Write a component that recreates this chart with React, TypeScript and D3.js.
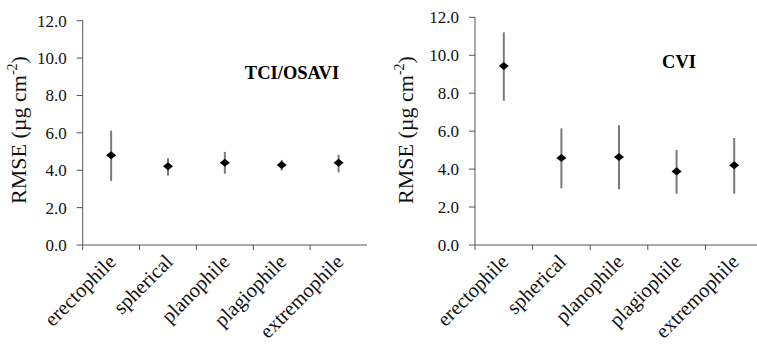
import React from "react";
import * as d3 from "d3";

const categories = ["erectophile", "spherical", "planophile", "plagiophile", "extremophile"];
const yTicks = [0, 2, 4, 6, 8, 10, 12];

// TCI/OSAVI panel
const tciMean = [4.8, 4.21, 4.4, 4.28, 4.4];
const tciHigh = [6.12, 4.64, 4.98, 4.55, 4.83];
const tciLow = [3.42, 3.71, 3.81, 3.98, 3.89];

// CVI panel
const cviMean = [9.43, 4.58, 4.64, 3.88, 4.2];
const cviHigh = [11.21, 6.15, 6.31, 5.01, 5.64];
const cviLow = [7.6, 2.99, 2.94, 2.7, 2.7];

const FONT = "'Liberation Serif', 'Times New Roman', serif";

// flat diamond, a bit wider than tall
const flatDiamond = {
  draw(ctx: any, size: number) {
    const w = Math.sqrt(size) * 0.6;
    const h = w * 0.8;
    ctx.moveTo(0, -h);
    ctx.lineTo(w, 0);
    ctx.lineTo(0, h);
    ctx.lineTo(-w, 0);
    ctx.closePath();
  },
};

type PanelProps = {
  x0: number;
  x1: number;
  yTop: number;
  title: string;
  titleX: number;
  titleY: number;
  labelX: number;
  mean: number[];
  high: number[];
  low: number[];
};

function Panel(p: PanelProps) {
  const yBottom = 245;
  const x = d3.scaleBand().domain(categories).range([p.x0, p.x1]);
  const y = d3.scaleLinear().domain([0, 12]).range([yBottom, p.yTop]);
  const sym = d3.symbol().type(flatDiamond as any).size(70);
  const axisEnd = Math.min(p.x1, 757);

  return (
    <g>
      {/* y axis */}
      <line x1={p.x0} x2={p.x0} y1={y(12)} y2={yBottom} stroke="#555" strokeWidth={1} />
      {yTicks.map((t) => (
        <g key={t}>
          <line x1={p.x0 - 6} x2={p.x0} y1={y(t)} y2={y(t)} stroke="#555" strokeWidth={1} />
          <text x={p.x0 - 16} y={y(t)} dy="0.35em" textAnchor="end" fontSize={17} fontFamily={FONT} fill="#111">
            {d3.format(".1f")(t)}
          </text>
        </g>
      ))}
      {/* x axis */}
      <line x1={p.x0} x2={axisEnd} y1={yBottom} y2={yBottom} stroke="#555" strokeWidth={1} />
      {categories.map((c) => (
        <line key={c} x1={x(c)!} x2={x(c)!} y1={yBottom} y2={yBottom + 5} stroke="#555" strokeWidth={1} />
      ))}
      {categories.map((c) => {
        const cx = x(c)! + x.bandwidth() / 2 + 6;
        const cy = yBottom + 18;
        return (
          <text
            key={c}
            x={cx}
            y={cy}
            textAnchor="end"
            fontSize={20.5}
            fontFamily={FONT}
            fill="#111"
            transform={`rotate(-45 ${cx} ${cy})`}
          >
            {c}
          </text>
        );
      })}
      {/* error bars and means */}
      {categories.map((c, i) => {
        const cx = x(c)! + x.bandwidth() / 2;
        return (
          <g key={c}>
            <line x1={cx} x2={cx} y1={y(p.high[i])} y2={y(p.low[i])} stroke="#7a7a7a" strokeWidth={2} />
            <path d={sym()!} transform={`translate(${cx},${y(p.mean[i])})`} fill="#000" />
          </g>
        );
      })}
      {/* y label */}
      <text
        transform={`translate(${p.labelX},130) rotate(-90)`}
        textAnchor="middle"
        fontSize={22}
        fontFamily={FONT}
        fill="#111"
      >
        RMSE (µg cm
        <tspan fontSize={14} dy={-9}>-2</tspan>
        <tspan dy={9}>)</tspan>
      </text>
      <text x={p.titleX} y={p.titleY} textAnchor="middle" fontSize={18.5} fontWeight="bold" fontFamily={FONT} fill="#000">
        {p.title}
      </text>
    </g>
  );
}

export default function App() {
  return (
    <svg width={757} height={348} style={{ position: "absolute", left: 0, top: 0, background: "#fff" }}>
      <rect width={757} height={348} fill="#fff" />
      <Panel
        x0={82.7}
        x1={367}
        yTop={20.7}
        title="TCI/OSAVI"
        titleX={292}
        titleY={79}
        labelX={26}
        mean={tciMean}
        high={tciHigh}
        low={tciLow}
      />
      <Panel
        x0={475}
        x1={763}
        yTop={17.3}
        title="CVI"
        titleX={679}
        titleY={68}
        labelX={413}
        mean={cviMean}
        high={cviHigh}
        low={cviLow}
      />
    </svg>
  );
}
